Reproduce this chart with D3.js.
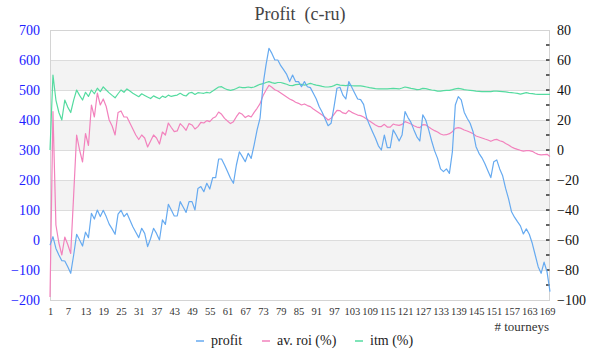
<!DOCTYPE html>
<html>
<head>
<meta charset="utf-8">
<script src="https://cdn.jsdelivr.net/npm/d3@7"></script>
<style>
  html, body { margin: 0; padding: 0; background: #fff; }
  svg { display: block; }
  text { font-family: "Liberation Serif", "DejaVu Serif", serif; }
</style>
</head>
<body>
<svg id="chart" width="600" height="360"></svg>
<script>
// ---- data ----
const title = "Profit  (c-ru)";
const xLabel = "# tourneys";
const seriesNames = ["profit", "av. roi (%)", "itm (%)"];
const leftTicks = [-200, -100, 0, 100, 200, 300, 400, 500, 600, 700];
const rightTicks = [-100, -80, -60, -40, -20, 0, 20, 40, 60, 80];

const profit = [
  -17, 11, -28, -50, -69, -70, -89, -111, -50, 19,
  0, -20, 26, 8, 89, 70, 100, 78, 99, 78,
  53, 37, 19, 86, 99, 78, 89, 67, 44, 26,
  8, 39, 22, -22, 5, 39, 22, 0, 67, 52,
  119, 100, 80, 80, 128, 110, 92, 128, 128, 100,
  172, 178, 161, 189, 170, 208, 208, 270, 270, 250,
  228, 206, 189, 250, 294, 278, 261, 289, 272, 317,
  367, 406, 517, 583, 639, 622, 600, 600, 581, 567,
  552, 528, 550, 528, 528, 511, 528, 511, 508, 489,
  470, 444, 426, 403, 381, 389, 444, 506, 509, 483,
  470, 528, 509, 489, 470, 468, 452, 408, 383, 361,
  339, 314, 300, 350, 308, 308, 367, 350, 330, 350,
  428, 408, 392, 367, 344, 330, 417, 400, 367, 330,
  297, 272, 237, 228, 237, 222, 294, 450, 478, 467,
  426, 406, 389, 361, 311, 289, 274, 254, 231, 208,
  261, 267, 237, 214, 172, 137, 94, 76, 61, 47,
  20, 37, 19, -11, -50, -89, -111, -74, -106, -172
];

const roi = [
  -98, 25.6, -50, -62, -70, -58, -63, -69, -30, 10,
  0, -8, 11, 3, 30, 22, 38, 30, 34, 29,
  20, 16, 10, 25, 26, 22, 22, 18, 14, 10,
  7, 10, 8, 2, 6, 10, 8, 4, 12, 10,
  18, 15, 12.2, 12.7, 17.6, 15.6, 13.1, 17.6, 16.7, 14,
  15.6, 18.4, 18, 19.6, 18.9, 21.1, 22.2, 25.3, 23.8, 21.1,
  19.3, 17.6, 18.9, 22.2, 24.9, 23.8, 21.6, 22.9, 22, 25.1,
  27.8, 30.9, 36.2, 39.8, 43.1, 41.8, 40.2, 39.3, 38, 36.7,
  35.3, 34, 33.1, 31.8, 31.1, 30, 30.7, 29.6, 28.9, 27.3,
  26, 24.7, 23.3, 21.8, 20, 21.1, 23.8, 26.4, 26.2, 24.7,
  24.2, 26.4, 25.1, 24.2, 23.3, 22.9, 22, 20.7, 19.3, 18,
  16.7, 15.6, 15.6, 17.1, 15.3, 15.3, 17.3, 16.7, 16.4, 17.1,
  18.9, 18.2, 17.3, 16.2, 15.3, 14.9, 16.9, 16.7, 15.3, 14,
  12.9, 12, 10.7, 10, 10.2, 10.9, 12.2, 14.4, 14.9, 14.4,
  13.3, 12.7, 11.8, 10.9, 9.3, 8.7, 8, 7.3, 6.7, 5.8,
  6.7, 7.1, 6.2, 5.6, 4.4, 3.3, 2, 1.1, 0.4, -0.2,
  -0.7, -0.4, -0.4, -0.9, -2, -2.9, -3.3, -3.1, -2.9, -4.4
];

const itm = [
  0, 50, 33.3, 25, 20, 33.3, 28.6, 25, 33.3, 40,
  36.4, 33.3, 38.5, 35.7, 40, 37.5, 41.2, 38.9, 42.1, 40,
  38.1, 36.4, 34.8, 37.5, 40, 38.5, 40.7, 39.3, 37.9, 36.7,
  35.5, 37.5, 36.4, 35.3, 34.3, 36.1, 35.1, 34.2, 35.9, 35,
  36.6, 35.7, 36.2, 36.6, 37.8, 36.6, 36, 38, 38.4, 37,
  38.2, 38, 37.8, 38.4, 38, 39.3, 40.7, 42, 42.2, 41,
  40.2, 39.8, 40.2, 41, 42, 41.6, 41.6, 42, 41.6, 42,
  42.9, 43.8, 44.2, 45, 45.6, 44.9, 44.4, 45, 45, 44.4,
  43.8, 43, 42.9, 43.6, 43.8, 43.8, 43.3, 43.8, 44.4, 43.8,
  43.3, 42.9, 42.4, 42, 42, 42.2, 42.9, 43.8, 43.3, 43.1,
  42.9, 43.3, 42.9, 42.7, 42.7, 42.7, 42.4, 42, 41.6, 41.3,
  40.9, 40.7, 40.7, 40.7, 40.7, 40.9, 41.1, 40.9, 40.7, 41.3,
  42, 41.6, 41.1, 40.7, 40.2, 40.4, 41.1, 40.9, 40.4, 40,
  39.8, 39.3, 39.3, 39.6, 39.8, 39.8, 40.2, 40.7, 41.1, 40.7,
  40.2, 40, 39.8, 39.6, 39.3, 39.1, 38.9, 38.9, 38.9, 38.9,
  39.3, 39.3, 39.1, 38.9, 38.7, 38.4, 38.2, 38, 37.8, 37.3,
  37.8, 38.2, 37.8, 37.6, 37.3, 37.1, 37.1, 37.1, 37.1, 37.1
];

const tourneys = d3.range(1, profit.length + 1);
const xTickValues = tourneys.filter(t => (t - 1) % 6 === 0);

// ---- layout ----
const svg = d3.select("#chart");
const FONT = '"Liberation Serif", "DejaVu Serif", serif';
const L = 50, R = 550, T = 30, B = 300;
const colors = ["#66aaf0", "#f282bd", "#55dba0"];

const x = d3.scaleLinear().domain([1, tourneys.length]).range([L, R]);
const yL = d3.scaleLinear().domain([-200, 700]).range([B, T]);
const yR = d3.scaleLinear().domain([-100, 80]).range([B, T]);

// bands
svg.append("g").selectAll("rect")
  .data([-100, 100, 300, 500])
  .join("rect")
  .attr("x", L).attr("width", R - L)
  .attr("y", d => yL(d + 100)).attr("height", d => yL(d) - yL(d + 100))
  .attr("fill", "#f3f3f3");

// grid
svg.append("g").selectAll("line")
  .data(leftTicks)
  .join("line")
  .attr("x1", L).attr("x2", R)
  .attr("y1", d => yL(d) + 0.5).attr("y2", d => yL(d) + 0.5)
  .attr("stroke", "#dcdcdc").attr("stroke-width", 1);

// border
svg.append("rect")
  .attr("x", L + 0.5).attr("y", T + 0.5)
  .attr("width", R - L - 1).attr("height", B - T)
  .attr("fill", "none").attr("stroke", "#d4d4d4");

// left axis
const leftAxis = d3.axisLeft(yL).tickValues(leftTicks).tickSize(0).tickPadding(10);
const gl = svg.append("g").attr("transform", `translate(${L},0)`).call(leftAxis)
  .attr("font-family", FONT);
gl.select(".domain").remove();
gl.selectAll("text").attr("fill", "#2020ff").attr("font-size", 14);

// right axis (ticks every 10, labels every 20)
const rightMinor = d3.range(-90, 80, 10);
svg.append("g").selectAll("line")
  .data(rightMinor)
  .join("line")
  .attr("x1", R - 4).attr("x2", R - 0.5)
  .attr("y1", d => yR(d)).attr("y2", d => yR(d))
  .attr("stroke", "#111").attr("stroke-width", 1.3);
const rightAxis = d3.axisRight(yR).tickValues(rightTicks).tickSize(0).tickPadding(7);
const gr = svg.append("g").attr("transform", `translate(${R},0)`).call(rightAxis)
  .attr("font-family", FONT);
gr.select(".domain").remove();
gr.selectAll("text").attr("fill", "#111").attr("font-size", 14);

// x axis
const xAxis = d3.axisBottom(x).tickValues(xTickValues).tickSize(0).tickPadding(8).tickFormat(d3.format("d"));
const gx = svg.append("g").attr("transform", `translate(0,${B})`).call(xAxis)
  .attr("font-family", FONT);
gx.select(".domain").remove();
gx.selectAll("text").attr("fill", "#333").attr("font-size", 10.5);

// lines
const seriesData = [
  { vals: profit, scale: yL },
  { vals: roi, scale: yR },
  { vals: itm, scale: yR }
];
[2, 1, 0].forEach(k => {
  const s = seriesData[k];
  const line = d3.line().x((d, i) => x(tourneys[i])).y(d => s.scale(d));
  svg.append("path")
    .datum(s.vals)
    .attr("d", line)
    .attr("fill", "none")
    .attr("stroke", colors[k])
    .attr("stroke-width", 1.2)
    .attr("stroke-linejoin", "round");
});

// title
svg.append("text")
  .attr("x", 300).attr("y", 20)
  .attr("text-anchor", "middle")
  .attr("font-size", 18)
  .attr("fill", "#444")
  .style("white-space", "pre")
  .text(title);

// x label
svg.append("text")
  .attr("x", R - 1).attr("y", 331)
  .attr("text-anchor", "end")
  .attr("font-size", 13)
  .attr("fill", "#333")
  .text(xLabel);

// legend
const legendX = [196, 262, 355];
const lg = svg.append("g");
seriesNames.forEach((name, k) => {
  lg.append("line")
    .attr("x1", legendX[k]).attr("x2", legendX[k] + 8)
    .attr("y1", 341).attr("y2", 341)
    .attr("stroke", colors[k]).attr("stroke-width", 1.5);
  lg.append("text")
    .attr("x", legendX[k] + 15).attr("y", 345)
    .attr("font-size", 14)
    .attr("fill", "#222")
    .text(name);
});
</script>
</body>
</html>
